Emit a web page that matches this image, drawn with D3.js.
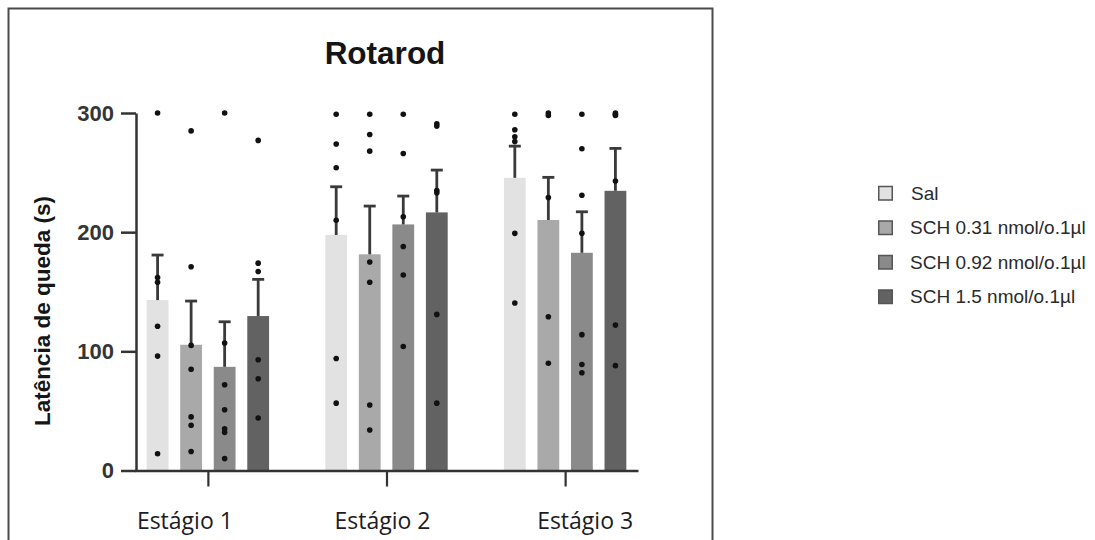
<!DOCTYPE html>
<html>
<head>
<meta charset="utf-8">
<script src="https://cdn.jsdelivr.net/npm/d3@7"></script>
<style>
  html, body { margin: 0; padding: 0; background: #ffffff; }
  svg { display: block; }
</style>
</head>
<body>
<svg id="chart" width="1095" height="540"></svg>
<script>
// ---------- data ----------
const stages = ["Estágio 1", "Estágio 2", "Estágio 3"];
const groups = ["Sal", "SCH 0.31 nmol/o.1µl", "SCH 0.92 nmol/o.1µl", "SCH 1.5 nmol/o.1µl"];
const yTicks = [0, 100, 200, 300];

// mean latency per stage, one array per group
const meanSal   = [143, 197.6, 245.6];
const mean031   = [105.5, 181.4, 210.2];
const mean092   = [87, 206.5, 182.7];
const mean15    = [129.6, 216.6, 234.7];

// standard error per stage, one array per group
const semSal    = [37.8, 40.5, 26.6];
const sem031    = [36.7, 40.5, 35.8];
const sem092    = [37.8, 23.8, 34.4];
const sem15     = [30.8, 35.5, 35.6];

// individual animals per stage, one array per group
const ptsSal = [
  [300, 162, 158, 121, 96, 14],
  [299, 274, 254, 210, 94, 56.5],
  [299, 286, 280, 276, 199, 140.6]
];
const pts031 = [
  [285, 171, 105, 85, 45, 38, 16],
  [299, 282, 268, 175, 158, 55, 34],
  [300, 298, 229, 129, 90]
];
const pts092 = [
  [300, 107, 72, 51, 35, 32, 10],
  [299, 266, 213, 188, 164, 104],
  [299, 270, 231, 199, 114, 89, 82]
];
const pts15 = [
  [277, 174, 167, 93, 77, 44],
  [291, 289, 235, 233, 131, 56.5],
  [300, 299, 298, 243, 122, 88]
];

const colors = ["#e2e2e2", "#a9a9a9", "#8a8a8a", "#626262"];

const means = [meanSal, mean031, mean092, mean15];
const sems  = [semSal, sem031, sem092, sem15];
const pts   = [ptsSal, pts031, pts092, pts15];

// ---------- drawing ----------
const svg = d3.select("#chart");

// outer frame (extends below the picture)
svg.append("rect")
  .attr("x", 8.5).attr("y", 8.5)
  .attr("width", 704).attr("height", 600)
  .attr("fill", "none").attr("stroke", "#4a4a4a").attr("stroke-width", 2);

const y = d3.scaleLinear().domain([0, 300]).range([470.5, 113]);
const x = d3.scalePoint().domain(stages).range([135, 638]).padding(0.408);
const xi = d3.scaleBand().domain(groups).range([-61.2, 61.2]).paddingInner(0.35).paddingOuter(0);

const rows = [];
stages.forEach((s, si) => {
  groups.forEach((g, gi) => {
    rows.push({ stage: s, group: g, gi, mean: means[gi][si], sem: sems[gi][si], pts: pts[gi][si] });
  });
});

const cx = d => x(d.stage) + xi(d.group) + xi.bandwidth() / 2;

// bars
svg.append("g").selectAll("rect").data(rows).join("rect")
  .attr("x", d => x(d.stage) + xi(d.group))
  .attr("width", xi.bandwidth())
  .attr("y", d => y(d.mean))
  .attr("height", d => y(0) - y(d.mean))
  .attr("fill", d => colors[d.gi]);

// error bars (upper only)
const eb = svg.append("g").attr("stroke", "#3a3a3a").attr("stroke-width", 2.8);
eb.selectAll("line.v").data(rows).join("line").attr("class", "v")
  .attr("x1", cx).attr("x2", cx)
  .attr("y1", d => y(d.mean)).attr("y2", d => y(d.mean + d.sem));
eb.selectAll("line.c").data(rows).join("line").attr("class", "c")
  .attr("x1", d => cx(d) - 6).attr("x2", d => cx(d) + 6)
  .attr("y1", d => y(d.mean + d.sem)).attr("y2", d => y(d.mean + d.sem));

// points
const dots = [];
rows.forEach(r => r.pts.forEach(v => dots.push({ r, v })));
svg.append("g").selectAll("circle").data(dots).join("circle")
  .attr("cx", d => cx(d.r))
  .attr("cy", d => y(d.v))
  .attr("r", 2.8)
  .attr("fill", "#111");

// y axis
const yAxis = svg.append("g")
  .attr("transform", `translate(${x.range()[0] + 1},0)`)
  .call(d3.axisLeft(y).tickValues(yTicks).tickSize(15).tickSizeOuter(0).tickPadding(7));
yAxis.select(".domain").attr("stroke", "#333").attr("stroke-width", 2.5);
yAxis.selectAll(".tick line").attr("stroke", "#333").attr("stroke-width", 2.5);
yAxis.selectAll(".tick text")
  .attr("font-family", "'Liberation Sans', Arial, sans-serif")
  .attr("font-weight", "bold")
  .attr("font-size", 22)
  .attr("fill", "#353535");

// x axis
const xAxis = svg.append("g")
  .attr("transform", `translate(0,${y(0)})`)
  .call(d3.axisBottom(x).tickSize(16).tickSizeOuter(0).tickFormat(""));
xAxis.select(".domain").attr("stroke", "#333").attr("stroke-width", 2.5);
xAxis.selectAll(".tick line").attr("stroke", "#333").attr("stroke-width", 2.2);

// x labels (pasted labels sit slightly off the ticks)
const labelShift = [-23, -4, 20];
svg.append("g").selectAll("text").data(stages).join("text")
  .attr("x", (d, i) => x(d) + labelShift[i])
  .attr("y", 529)
  .attr("text-anchor", "middle")
  .attr("font-family", "'Open Sans', sans-serif")
  .attr("font-size", 23)
  .attr("fill", "#1c1c24")
  .text(d => d);

// title
svg.append("text")
  .attr("x", 385).attr("y", 64)
  .attr("text-anchor", "middle")
  .attr("font-family", "'Liberation Sans', Arial, sans-serif")
  .attr("font-weight", "bold")
  .attr("font-size", 31.5)
  .attr("fill", "#151515")
  .text("Rotarod");

// y label
svg.append("text")
  .attr("transform", "translate(50,311) rotate(-90)")
  .attr("text-anchor", "middle")
  .attr("font-family", "'Liberation Sans', Arial, sans-serif")
  .attr("font-weight", "bold")
  .attr("font-size", 22.5)
  .attr("fill", "#161616")
  .text("Latência de queda (s)");

// legend
const leg = svg.append("g").selectAll("g").data(groups).join("g")
  .attr("transform", (d, i) => `translate(878,${193 + i * 34.5})`);
leg.append("rect")
  .attr("x", 0.75).attr("y", -6.5)
  .attr("width", 13.5).attr("height", 13.5)
  .attr("fill", (d, i) => colors[i])
  .attr("stroke", "#555").attr("stroke-width", 1.5);
leg.append("text")
  .attr("x", (d, i) => i === 0 ? 33 : 32)
  .attr("y", 0)
  .attr("dy", "0.36em")
  .attr("font-family", "'Liberation Sans', Arial, sans-serif")
  .attr("font-size", 19)
  .attr("fill", "#2a2a2a")
  .text(d => d);
</script>
</body>
</html>
